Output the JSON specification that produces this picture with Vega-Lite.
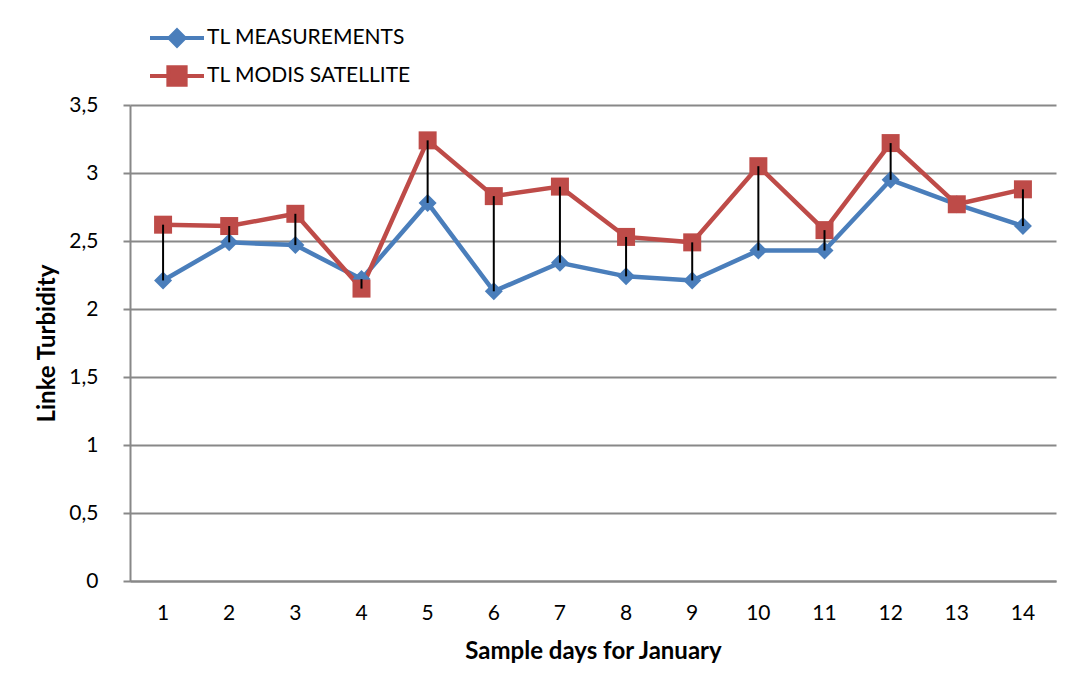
{
  "$schema": "https://vega.github.io/schema/vega-lite/v6.json",
  "autosize": "none",
  "width": 926,
  "height": 476,
  "padding": {"left": 130, "top": 105, "right": 18, "bottom": 100},
  "background": "white",
  "config": {"view": {"stroke": null}, "font": "Lato"},
  "data": {
    "values": [
      {"day": 1, "series": "TL MEASUREMENTS", "value": 2.21},
      {"day": 2, "series": "TL MEASUREMENTS", "value": 2.49},
      {"day": 3, "series": "TL MEASUREMENTS", "value": 2.47},
      {"day": 4, "series": "TL MEASUREMENTS", "value": 2.22},
      {"day": 5, "series": "TL MEASUREMENTS", "value": 2.78},
      {"day": 6, "series": "TL MEASUREMENTS", "value": 2.13},
      {"day": 7, "series": "TL MEASUREMENTS", "value": 2.34},
      {"day": 8, "series": "TL MEASUREMENTS", "value": 2.24},
      {"day": 9, "series": "TL MEASUREMENTS", "value": 2.21},
      {"day": 10, "series": "TL MEASUREMENTS", "value": 2.43},
      {"day": 11, "series": "TL MEASUREMENTS", "value": 2.43},
      {"day": 12, "series": "TL MEASUREMENTS", "value": 2.95},
      {"day": 13, "series": "TL MEASUREMENTS", "value": 2.77},
      {"day": 14, "series": "TL MEASUREMENTS", "value": 2.61},
      {"day": 1, "series": "TL MODIS SATELLITE", "value": 2.62},
      {"day": 2, "series": "TL MODIS SATELLITE", "value": 2.61},
      {"day": 3, "series": "TL MODIS SATELLITE", "value": 2.70},
      {"day": 4, "series": "TL MODIS SATELLITE", "value": 2.15},
      {"day": 5, "series": "TL MODIS SATELLITE", "value": 3.24},
      {"day": 6, "series": "TL MODIS SATELLITE", "value": 2.83},
      {"day": 7, "series": "TL MODIS SATELLITE", "value": 2.90},
      {"day": 8, "series": "TL MODIS SATELLITE", "value": 2.53},
      {"day": 9, "series": "TL MODIS SATELLITE", "value": 2.49},
      {"day": 10, "series": "TL MODIS SATELLITE", "value": 3.05},
      {"day": 11, "series": "TL MODIS SATELLITE", "value": 2.58},
      {"day": 12, "series": "TL MODIS SATELLITE", "value": 3.22},
      {"day": 13, "series": "TL MODIS SATELLITE", "value": 2.77},
      {"day": 14, "series": "TL MODIS SATELLITE", "value": 2.88}
    ]
  },
  "encoding": {
    "x": {
      "field": "day",
      "type": "ordinal",
      "title": "Sample days for January",
      "axis": {
        "labelAngle": 0,
        "labelFontSize": 21,
        "labelColor": "#000000",
        "labelPadding": 21,
        "ticks": false,
        "tickSize": 0,
        "domainColor": "#888888",
        "domainWidth": 2,
        "titleFontSize": 24,
        "titleFontWeight": "bold",
        "titleColor": "#000000",
        "titlePadding": 16
      }
    },
    "y": {
      "field": "value",
      "type": "quantitative",
      "title": "Linke Turbidity",
      "scale": {"domain": [0, 3.5], "nice": false},
      "axis": {
        "values": [0, 0.5, 1, 1.5, 2, 2.5, 3, 3.5],
        "labelExpr": "replace(format(datum.value, '~g'), '.', ',')",
        "labelFontSize": 21,
        "labelColor": "#000000",
        "labelPadding": 25,
        "tickSize": 7,
        "tickColor": "#888888",
        "tickWidth": 2,
        "domainColor": "#888888",
        "domainWidth": 2,
        "grid": true,
        "gridColor": "#888888",
        "gridWidth": 2,
        "titleFontSize": 24,
        "titleFontWeight": "bold",
        "titleColor": "#000000",
        "titlePadding": 9
      }
    }
  },
  "layer": [
    {
      "mark": {"type": "line", "strokeWidth": 4.5},
      "encoding": {
        "color": {
          "field": "series",
          "type": "nominal",
          "scale": {"domain": ["TL MEASUREMENTS", "TL MODIS SATELLITE"], "range": ["#4A7EBB", "#BE4B48"]},
          "legend": {
            "orient": "none",
            "legendX": 18,
            "legendY": -86,
            "title": null,
            "padding": 0,
            "symbolSize": 2916,
            "symbolStrokeWidth": 4,
            "clipHeight": 38,
            "rowPadding": 0,
            "labelOffset": 1,
            "labelFontSize": 21,
            "labelColor": "#000000",
            "labelLimit": 400,
            "encode": {
              "symbols": {
                "update": {
                  "shape": {"signal": "datum.value == 'TL MEASUREMENTS' ? 'M-1,0H1M0,-0.28L0.28,0L0,0.28L-0.28,0Z' : 'M-1,0H1M-0.32,-0.32H0.32V0.32H-0.32Z'"},
                  "fill": {"signal": "datum.value == 'TL MEASUREMENTS' ? '#4A7EBB' : '#BE4B48'"},
                  "stroke": {"signal": "datum.value == 'TL MEASUREMENTS' ? '#4A7EBB' : '#BE4B48'"},
                  "opacity": {"value": 1}
                }
              }
            }
          }
        }
      }
    },
    {
      "transform": [{"filter": "datum.series == 'TL MEASUREMENTS'"}],
      "mark": {"type": "point", "shape": "diamond", "filled": true, "size": 324, "opacity": 1},
      "encoding": {
        "color": {"field": "series", "type": "nominal", "legend": null}
      }
    },
    {
      "transform": [{"filter": "datum.series == 'TL MODIS SATELLITE'"}],
      "mark": {"type": "point", "shape": "square", "filled": true, "size": 324, "opacity": 1},
      "encoding": {
        "color": {"field": "series", "type": "nominal", "legend": null}
      }
    },
    {
      "mark": {"type": "rule", "color": "#000000", "strokeWidth": 2},
      "encoding": {
        "y": {"aggregate": "min", "field": "value", "type": "quantitative"},
        "y2": {"aggregate": "max", "field": "value"}
      }
    }
  ]
}
